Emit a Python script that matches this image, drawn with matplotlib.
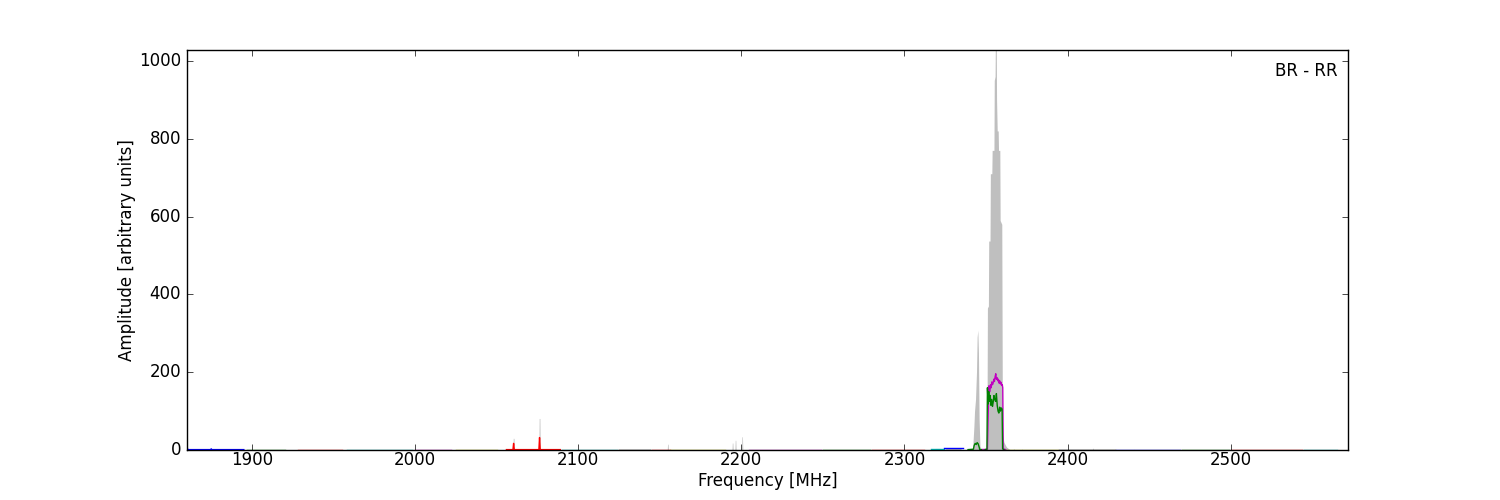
import numpy as np
import matplotlib
matplotlib.use('Agg')
import matplotlib.pyplot as plt

plt.style.use('classic')

# 灰色总谱 (频率 MHz, 幅度)
gray_freq = [1860.0, 2060.0, 2060.2, 2060.6, 2060.8,
             2075.9, 2076.1, 2076.5, 2076.7,
             2154.6, 2154.8, 2155.1, 2155.3,
             2194.3, 2194.5, 2194.8, 2195.0,
             2196.1, 2196.3, 2196.6, 2196.8,
             2200.2, 2200.4, 2200.7, 2200.9,
             2318.5, 2319.0, 2322.0, 2322.5, 2325.0, 2325.5, 2334.5, 2335.0,
             2341.8, 2342.6, 2343.0, 2343.6, 2344.2, 2344.6, 2345.0, 2345.4, 2345.8, 2346.3, 2347.0,
             2350.3, 2350.6, 2350.9, 2351.5, 2351.7, 2352.5, 2352.7, 2353.6, 2353.8, 2354.9,
             2355.1, 2355.6, 2355.8, 2356.3, 2356.5, 2356.9, 2357.5, 2357.7, 2358.5, 2358.7,
             2359.7, 2360.1, 2361.0, 2362.5, 2364.0, 2365.0,
             2366.7, 2367.0, 2367.3, 2371.7, 2372.0, 2372.3,
             2415.2, 2415.5, 2415.8, 2440.7, 2441.0, 2441.3, 2572.0]
gray_amp = [0, 0, 30, 30, 0,
            0, 81, 81, 0,
            0, 15, 15, 0,
            0, 18, 18, 0,
            0, 25, 25, 0,
            0, 34, 34, 0,
            0, 4, 4, 0, 0, 5, 5, 0,
            0, 60, 100, 130, 200, 290, 308, 250, 80, 10, 4,
            4, 5, 365, 370, 537, 537, 710, 710, 770, 770,
            950, 960, 1060, 1060, 900, 820, 820, 770, 770, 590,
            580, 40, 20, 8, 3, 0,
            0, 4, 0, 0, 3, 0,
            0, 6, 0, 0, 2, 0, 0]

# 各子带 (平直部分)
band_start = [1897, 1928, 1958, 2000, 2025, 2090, 2125, 2145, 2156, 2205, 2250, 2280,
              2316, 2324, 2362, 2395, 2430, 2470, 2500, 2545]
band_stop = [1920, 1955, 1998, 2022, 2050, 2124, 2144, 2156, 2190, 2249, 2279, 2312,
             2324, 2336, 2394, 2429, 2469, 2499, 2544, 2565]
band_color = ['g', 'r', 'c', 'm', 'y', 'c', 'k', 'r', 'y', 'm', 'g', 'r',
              'c', 'b', 'y', 'k', 'b', 'g', 'r', 'c']
band_level = [1.2, 1.2, 1.0, 1.2, 1.2, 1.0, 1.0, 1.2, 1.0, 1.2, 1.2, 1.2,
              3.5, 4.0, 1.2, 1.0, 1.2, 1.0, 1.2, 1.0]

blue_freq = [1860.0, 1860.6, 1861.2, 1874.6, 1875.0, 1875.4, 1895.0]
blue_amp = [12, 1, 1, 1, 3, 1, 1]

red_freq = [2056.0, 2060.0, 2060.4, 2060.8, 2075.9, 2076.3, 2076.7, 2089.0]
red_amp = [1, 1, 17, 1, 1, 32, 1, 1]

hump_freq = [2339.0, 2342.3, 2342.8, 2343.4, 2344.0, 2344.6, 2345.2, 2345.8, 2346.2, 2348.0]
hump_amp = [1, 2, 12, 17, 14, 19, 16, 8, 1, 1]

mag_freq = [2348.0, 2350.9, 2351.3, 2351.8, 2352.4, 2352.8, 2353.2, 2353.6, 2354.0, 2354.4,
            2354.8, 2355.2, 2355.6, 2356.0, 2356.4, 2356.8, 2357.2, 2357.6, 2358.0, 2358.4,
            2358.8, 2359.2, 2359.6, 2360.0, 2360.3, 2360.6, 2362.0]
mag_amp = [1, 2, 80, 165, 150, 168, 160, 175, 168, 172,
           182, 176, 188, 196, 182, 186, 178, 182, 172, 178,
           170, 174, 166, 168, 160, 3, 1]

green_freq = [2349.5, 2350.6, 2350.9, 2351.3, 2351.7, 2352.1, 2352.6, 2353.0, 2353.5, 2354.0,
              2354.4, 2354.9, 2355.4, 2355.9, 2356.4, 2356.9, 2357.4, 2357.9, 2358.4, 2358.9,
              2359.4, 2359.9, 2360.2, 2361.0]
green_amp = [1, 2, 160, 118, 150, 125, 140, 115, 130, 112,
             122, 140, 130, 125, 145, 115, 100, 95, 110, 100,
             108, 105, 3, 1]


fig = plt.figure(figsize=(15, 5), dpi=100, facecolor='w')
ax = fig.add_subplot(111)
fig.subplots_adjust(left=0.1245, right=0.8987, bottom=0.1, top=0.9)

ax.fill_between(gray_freq, 0, gray_amp, color='0.75', linewidth=0)

for s, e, c, lv in zip(band_start, band_stop, band_color, band_level):
    ax.plot([s, e], [lv, lv], color=c, lw=1)

ax.plot(blue_freq, blue_amp, color='b', lw=1)
ax.plot(red_freq, red_amp, color='r', lw=1)
ax.plot(hump_freq, hump_amp, color='g', lw=1)
ax.plot(mag_freq, mag_amp, color='m', lw=1)
ax.plot(green_freq, green_amp, color='g', lw=1)

ax.set_xlim(1860, 2572)
ax.set_ylim(0, 1028)
ax.set_xticks([1900, 2000, 2100, 2200, 2300, 2400, 2500])
ax.set_yticks([0, 200, 400, 600, 800, 1000])
ax.tick_params(axis='x', pad=1)
ax.set_xlabel('Frequency [MHz]', labelpad=2)
ax.set_ylabel('Amplitude [arbitrary units]', labelpad=2)
ax.text(0.991, 0.947, 'BR - RR', ha='right', va='center', transform=ax.transAxes, fontsize=12)

fig.savefig('out.png', dpi=100, facecolor='w')
